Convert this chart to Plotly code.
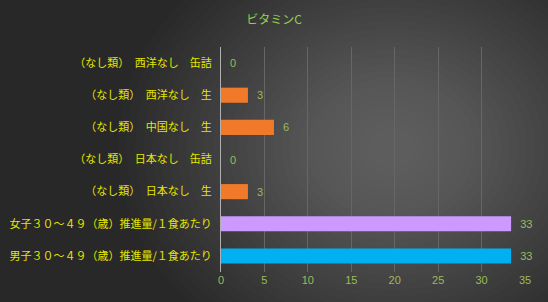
import plotly.graph_objects as go

categories = [
    "（なし類）　西洋なし　缶詰",
    "（なし類）　西洋なし　生",
    "（なし類）　中国なし　生",
    "（なし類）　日本なし　缶詰",
    "（なし類）　日本なし　生",
    "女子３０～４９（歳）推進量/１食あたり",
    "男子３０～４９（歳）推進量/１食あたり",
]
values = [0, 3.1, 6.1, 0, 3.1, 33.4, 33.4]
labels = ["  0", "  3", "  6", "  0", "  3", "  33", "  33"]
colors = ["#f07a2a", "#f07a2a", "#f07a2a", "#f07a2a", "#f07a2a", "#cc99ff", "#00b0f0"]
x_ticks = [0, 5, 10, 15, 20, 25, 30, 35]

fig = go.Figure(go.Bar(
    y=categories, x=values, orientation="h",
    marker=dict(color=colors, line=dict(width=0)),
    text=labels, textposition="outside", cliponaxis=False,
    textfont=dict(color="#9bbb59", size=11, family="Liberation Sans"),
    width=0.47,
))

shapes = []
n = 30
cx, cy = 0.56, 0.55
for i in range(n):
    f = i / n
    rx = 0.85 * (1 - f) + 0.05
    ry = 0.95 * (1 - f) + 0.06
    shapes.append(dict(
        type="circle", xref="paper", yref="paper", layer="below",
        x0=cx - rx, x1=cx + rx, y0=cy - ry, y1=cy + ry,
        fillcolor="rgba(255,255,255,0.011)", line=dict(width=0),
    ))

fig.update_layout(
    width=548, height=302,
    margin=dict(l=221, r=23, t=47, b=30),
    paper_bgcolor="#282828", plot_bgcolor="rgba(0,0,0,0)",
    title=dict(text="ビタミンC", x=0.5, xref="container", xanchor="center",
               y=0.934, yref="container", yanchor="middle",
               font=dict(color="#92d050", size=12, family="Noto Sans CJK JP")),
    showlegend=False,
    bargap=0.53,
    shapes=shapes,
    xaxis=dict(range=[0, 35], tickvals=x_ticks, showgrid=True, gridcolor="#666666", gridwidth=1,
               zeroline=False, showline=False, automargin=False,
               tickfont=dict(color="#9bbb59", size=11, family="Liberation Sans"), ticks=""),
    yaxis=dict(autorange="reversed", showgrid=False, showline=True, linecolor="#b0b0b0", linewidth=1,
               automargin=False,
               tickfont=dict(color="#e6e600", size=11, family="Noto Sans CJK JP"), ticks="",
               ticklabelstandoff=6),
)

fig.write_html("out.html")
